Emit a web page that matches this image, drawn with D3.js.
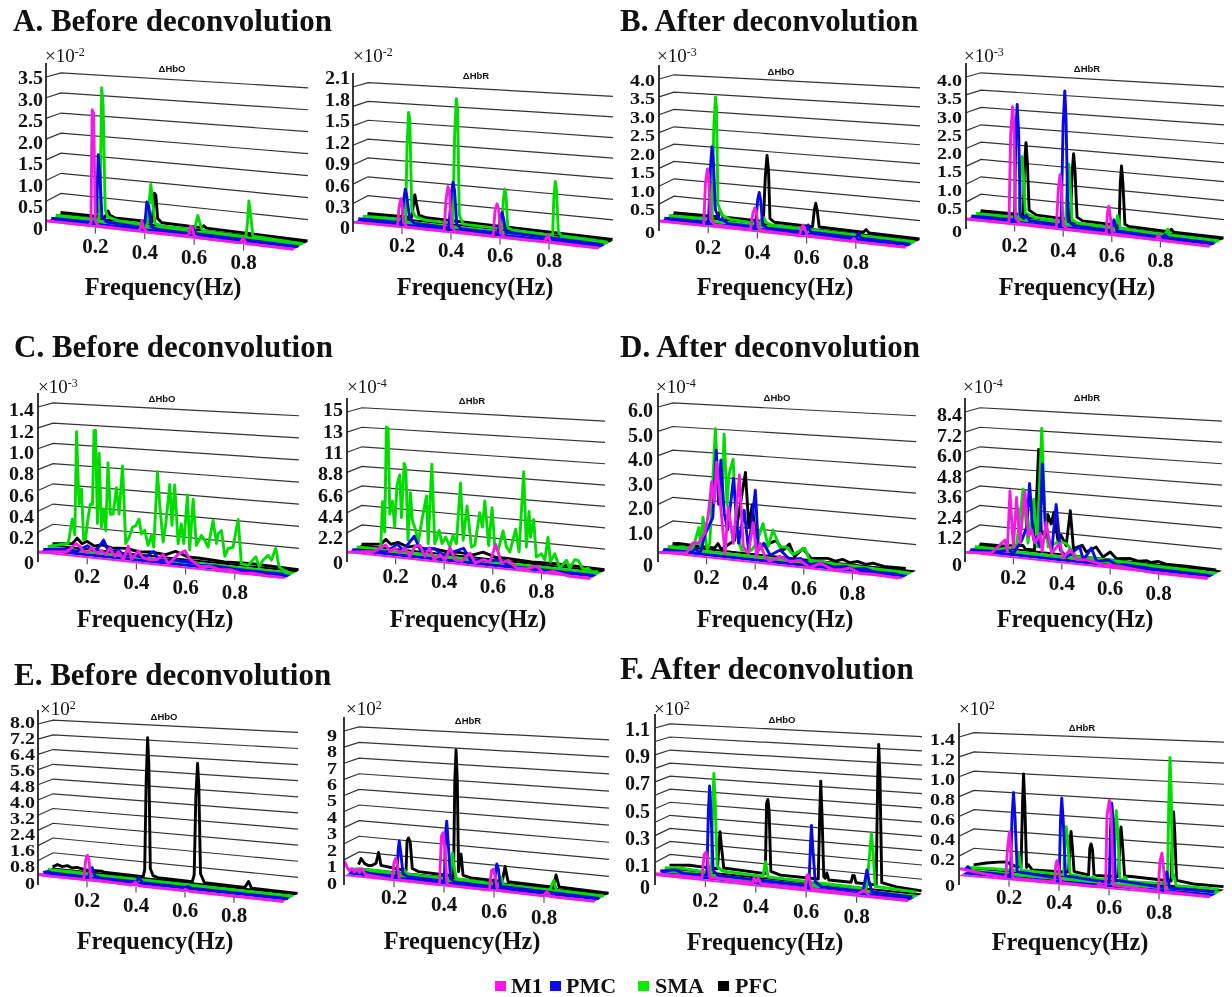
<!DOCTYPE html>
<html>
<head>
<meta charset="utf-8">
<script src="https://cdn.jsdelivr.net/npm/d3@7"></script>
<style>
    body {margin: 0; background: #fff;}
    svg {display: block; filter: blur(0.45px);}
    text {font-family: "Liberation Serif", serif; fill: #111;}
</style>
</head>
<body>
<div id="chart"></div>
<script>
// series names, back to front draw order comes from depth below
const seriesNames = ['M1', 'PMC', 'SMA', 'PFC']
const seriesColors = ['#f01ee0', '#0a0ae6', '#00dc00', '#000000']
const legendColors = ['#ff14e6', '#0a0af0', '#00f000', '#000000']
const xTickValues = [0.2, 0.4, 0.6, 0.8]
const xTickLabels = ['0.2', '0.4', '0.6', '0.8']

// values are [frequency, amplitude]
const aOxyM1 = [[0,.02],[.17,.03],[.18,.08],[.185,2.78],[.191,2.7],[.198,.15],[.21,.04],[.37,.03],[.38,.08],[.386,.27],[.394,.1],[.41,.03],[.57,.04],[.578,.1],[.583,.27],[.59,.26],[.598,.06],[.62,.03],[.785,.02],[.797,.14],[.808,.02],[1,.01]]
const aOxyPMC = [[0,.02],[.175,.03],[.184,.3],[.19,1.67],[.197,1.2],[.205,.2],[.225,.08],[.37,.04],[.38,.2],[.387,.66],[.395,.55],[.405,.08],[.43,.04],[.56,.03],[.573,.18],[.585,.04],[1,.01]]
const aOxySMA = [[0,.03],[.175,.04],[.18,.6],[.186,3.24],[.192,2.8],[.2,.3],[.21,.14],[.25,.07],[.37,.06],[.38,.7],[.385,1.02],[.392,.6],[.402,.1],[.44,.05],[.56,.05],[.567,.2],[.575,.4],[.585,.2],[.595,.05],[.77,.03],[.777,.4],[.782,.86],[.79,.5],[.798,.06],[1,.02]]
const aOxyPFC = [[0,.03],[.18,.04],[.192,.2],[.2,.1],[.22,.05],[.37,.05],[.376,.4],[.38,.75],[.386,.7],[.393,.15],[.41,.06],[.57,.05],[.58,.1],[.59,.05],[1,.02]]

const aDeoxyM1 = [[0,.01],[.18,.02],[.186,.3],[.193,.44],[.198,.38],[.205,.08],[.22,.02],[.37,.02],[.378,.5],[.386,.69],[.392,.6],[.4,.1],[.415,.03],[.57,.02],[.578,.4],[.586,.5],[.592,.44],[.6,.08],[.62,.02],[.78,.02],[.793,.12],[.805,.02],[1,.01]]
const aDeoxyPMC = [[0,.02],[.178,.03],[.186,.4],[.192,.55],[.198,.45],[.21,.1],[.23,.04],[.37,.03],[.38,.55],[.387,.72],[.393,.6],[.402,.1],[.42,.03],[.57,.03],[.58,.25],[.587,.34],[.593,.25],[.602,.05],[1,.02]]
const aDeoxySMA = [[0,.02],[.175,.04],[.181,1.2],[.187,1.7],[.192,1.6],[.2,.2],[.215,.1],[.26,.06],[.368,.06],[.375,1.4],[.382,1.96],[.387,1.8],[.394,.2],[.4,.14],[.41,.06],[.568,.05],[.574,.5],[.58,.65],[.585,.55],[.592,.08],[.61,.05],[.775,.03],[.78,.6],[.786,.83],[.791,.7],[.798,.1],[.81,.04],[1,.02]]
const aDeoxyPFC = [[0,.02],[.18,.03],[.186,.2],[.193,.39],[.2,.25],[.21,.08],[.24,.05],[1,.02]]

const bOxyM1 = [[0,.02],[.18,.03],[.187,1.2],[.195,1.59],[.2,1.4],[.208,.2],[.225,.08],[.37,.05],[.38,.5],[.388,.65],[.394,.55],[.402,.12],[.42,.05],[.57,.03],[.578,.25],[.584,.32],[.59,.25],[.6,.05],[.78,.02],[.79,.1],[.8,.02],[1,.01]]
const bOxyPMC = [[0,.02],[.18,.04],[.188,1.6],[.194,2.15],[.2,1.7],[.208,.4],[.225,.15],[.24,.15],[.26,.06],[.37,.05],[.38,.8],[.386,1],[.392,.8],[.4,.12],[.42,.05],[.575,.05],[.585,.25],[.595,.06],[.78,.04],[.79,.17],[.8,.04],[1,.02]]
const bOxySMA = [[0,.03],[.176,.05],[.183,2.6],[.19,3.48],[.194,3.2],[.2,.5],[.215,.2],[.25,.1],[.37,.06],[.378,.2],[.386,.25],[.395,.12],[.42,.06],[1,.02]]
const bOxyPFC = [[0,.03],[.18,.05],[.19,.22],[.2,.06],[.365,.05],[.373,1.3],[.38,1.9],[.386,1.5],[.392,.15],[.41,.06],[.565,.05],[.572,.5],[.578,.7],[.584,.5],[.592,.06],[.77,.04],[.783,.12],[.795,.04],[1,.02]]

const bDeoxyM1 = [[0,.02],[.175,.04],[.182,2.5],[.19,3.25],[.195,2.8],[.202,.2],[.22,.06],[.37,.05],[.378,1.1],[.385,1.5],[.39,1.3],[.398,.15],[.415,.05],[.575,.04],[.58,.6],[.586,.78],[.592,.5],[.6,.06],[.78,.03],[.79,.16],[.8,.03],[1,.01]]
const bDeoxyPMC = [[0,.03],[.178,.05],[.184,2.6],[.189,3.27],[.195,2.5],[.202,.2],[.215,.12],[.227,.22],[.24,.08],[.37,.05],[.378,2.8],[.385,3.73],[.39,3],[.398,.2],[.42,.08],[.575,.05],[.587,.35],[.6,.06],[.785,.03],[.797,.1],[.81,.03],[1,.02]]
const bDeoxySMA = [[0,.03],[.178,.05],[.184,1.3],[.19,1.77],[.196,1.3],[.204,.2],[.24,.1],[.37,.06],[.377,1.2],[.383,1.67],[.388,1.2],[.396,.15],[.42,.07],[.575,.05],[.584,.4],[.595,.06],[.78,.03],[.79,.18],[.8,.03],[1,.02]]
const bDeoxyPFC = [[0,.03],[.176,.05],[.181,1.5],[.187,2.1],[.193,1.5],[.2,.2],[.23,.08],[.37,.06],[.377,1.4],[.383,1.9],[.389,1.4],[.397,.15],[.42,.06],[.57,.05],[.575,1.2],[.58,1.68],[.586,1.2],[.594,.1],[.61,.05],[.775,.03],[.785,.1],[.795,.03],[1,.02]]

const cOxyM1 = [[0,.005],[.115,.04],[.135,.08],[.152,.125],[.169,.1],[.182,.06],[.199,.05],[.216,.1],[.236,.055],[.257,.08],[.274,.05],[.29,.115],[.311,.04],[.325,.09],[.345,.02],[.365,.15],[.379,.03],[.406,.115],[.426,.055],[.446,.045],[.48,.05],[.507,.105],[.528,.02],[.568,.12],[.596,.16],[.616,.085],[.656,.03],[.697,.04],[.738,.02],[.778,.03],[.819,.01],[.873,.02],[.927,.01],[.982,.01]]
const cOxyPMC = [[0,.005],[.096,.03],[.135,.02],[.157,.055],[.18,.085],[.205,.045],[.225,.08],[.245,.155],[.266,.05],[.306,.075],[.333,.02],[.367,.045],[.408,.025],[.449,.095],[.469,.02],[.53,.035],[.604,.03],[.638,.01],[.706,.02],[.774,.01],[.882,.01],[.977,.01]]
const cOxySMA = [[0,.01],[.083,.06],[.1,.3],[.11,.15],[.117,1.15],[.127,.45],[.137,.6],[.146,.11],[.154,.125],[.164,.33],[.173,.46],[.182,.46],[.188,1.17],[.194,1.175],[.202,.28],[.209,.955],[.218,.25],[.228,.425],[.236,.22],[.245,.87],[.255,.38],[.266,.385],[.279,.64],[.29,.39],[.304,.85],[.317,.115],[.331,.18],[.344,.275],[.358,.295],[.371,.36],[.381,.22],[.394,.26],[.408,.12],[.421,.215],[.431,.11],[.446,.82],[.455,.52],[.469,.165],[.48,.34],[.496,.71],[.505,.33],[.516,.71],[.53,.165],[.543,.35],[.553,.17],[.568,.625],[.577,.115],[.591,.59],[.604,.165],[.625,.26],[.638,.22],[.652,.16],[.672,.41],[.686,.2],[.692,.29],[.706,.325],[.72,.09],[.733,.165],[.753,.18],[.774,.44],[.787,.04],[.814,.03],[.846,.115],[.859,.03],[.875,.09],[.896,.14],[.909,.1],[.927,.21],[.94,.05],[.957,.02],[.977,.01]]
const cOxyPFC = [[0,.01],[.08,.03],[.1,.09],[.12,.04],[.14,.07],[.17,.03],[.2,.05],[.24,.03],[.3,.04],[.35,.02],[.4,.03],[.46,.02],[.5,.06],[.55,.02],[.6,.02],[.7,.01],[.8,.02],[1,.01]]

const cDeoxyM1 = [[0,.05],[.113,.47],[.127,.76],[.158,1.3],[.175,.6],[.195,1.05],[.216,.58],[.237,1.15],[.257,.33],[.278,1.45],[.298,1.6],[.319,.5],[.337,1.45],[.356,.25],[.381,.85],[.401,.3],[.422,1.7],[.442,.47],[.47,.37],[.504,1.35],[.525,.35],[.559,.8],[.586,.6],[.61,2.5],[.634,.65],[.662,1],[.696,.3],[.737,.3],[.778,.7],[.806,.07],[.847,.35],[.915,.02],[.998,.02]]
const cDeoxyPMC = [[0,.05],[.143,.2],[.184,1.15],[.211,.6],[.255,2.2],[.28,.8],[.337,1.1],[.376,.5],[.458,1.45],[.486,.3],[.54,.37],[.609,.6],[.65,.05],[.719,.05],[.787,.05],[.897,.05],[.993,.05]]
const cDeoxySMA = [[0,.05],[.09,.1],[.099,.36],[.106,5.35],[.115,2.03],[.122,13.6],[.129,13.5],[.136,4.06],[.147,5.5],[.156,2.7],[.166,7.4],[.177,8.45],[.184,3.8],[.195,9.75],[.202,9.2],[.211,1.4],[.221,6.6],[.229,3.6],[.243,2.55],[.252,1.15],[.27,4],[.287,6.4],[.294,1.25],[.309,9.9],[.321,1.3],[.339,2.8],[.351,1.4],[.366,2.15],[.383,1.15],[.396,2.4],[.41,1.55],[.427,8.1],[.438,2],[.454,5.7],[.472,1.35],[.486,1.6],[.506,5.1],[.517,3.6],[.527,6.4],[.543,1.7],[.557,5.75],[.568,1.6],[.582,1.3],[.602,3.4],[.616,1.75],[.63,1.25],[.654,3.7],[.668,1.35],[.687,9.8],[.698,1.95],[.709,5.7],[.715,3],[.728,4.9],[.739,1],[.76,1.4],[.774,.8],[.787,3.2],[.797,.67],[.815,1.55],[.835,.1],[.863,1],[.877,.2],[.897,1.15],[.911,1.1],[.931,.25],[.952,.4],[.966,.1],[.993,.15]]
const cDeoxyPFC = [[0,.05],[.08,.3],[.1,.9],[.12,.4],[.15,.7],[.19,.3],[.22,.5],[.26,.3],[.3,.4],[.36,.2],[.4,.3],[.46,.2],[.5,.6],[.55,.2],[.6,.2],[.7,.1],[.8,.2],[1,.1]]

const dOxyM1 = [[0,.01],[.116,.11],[.141,.55],[.164,.57],[.191,1],[.205,1.75],[.219,3.1],[.23,2.25],[.239,3.9],[.249,2.9],[.26,1.7],[.274,.27],[.287,2.15],[.308,.7],[.333,3.45],[.349,.6],[.37,.37],[.39,1.6],[.404,.27],[.418,.8],[.438,.3],[.459,.13],[.5,.37],[.541,.2],[.582,.3],[.623,.04],[.665,.27],[.72,.06],[.76,.12],[.788,.2],[.829,.03],[.884,.06],[.987,.01]]
const dOxyPMC = [[0,.02],[.118,.03],[.132,.2],[.152,.03],[.173,.85],[.187,1.15],[.204,1.55],[.218,4.3],[.228,2.1],[.237,3.9],[.251,1.75],[.265,1.1],[.289,3.2],[.31,.6],[.333,1.95],[.351,.36],[.379,2.8],[.392,.4],[.413,.7],[.44,.25],[.481,.5],[.523,.14],[.564,.25],[.605,.05],[.646,.14],[.7,.05],[.75,.12],[.783,.05],[.83,.12],[.866,.03],[.968,.03]]
const dOxySMA = [[0,.04],[.104,.08],[.128,.97],[.136,.18],[.145,1.4],[.162,.08],[.173,.35],[.196,5.1],[.207,2.65],[.221,2],[.232,4.9],[.244,2],[.252,3.25],[.269,3.9],[.283,1],[.303,.21],[.344,.25],[.365,.55],[.392,1.38],[.413,.47],[.433,1.15],[.461,.5],[.488,.53],[.516,.26],[.564,.55],[.584,.1],[.626,.08],[.694,.05],[.763,.05],[.9,.03],[.982,.02]]
const dOxyPFC = [[0,.04],[.022,.08],[.1,.06],[.173,.05],[.187,.25],[.2,.03],[.255,.45],[.3,3.3],[.314,1.05],[.328,2],[.342,.67],[.358,.28],[.427,.62],[.454,.25],[.481,.54],[.502,.05],[.536,.4],[.571,.05],[.639,.12],[.67,.04],[.7,.14],[.73,.04],[.763,.12],[.795,.04],[.824,.12],[.87,.04],[.96,.05]]

const dDeoxyM1 = [[0,.02],[.108,.15],[.163,1],[.173,.35],[.184,3.9],[.198,.6],[.211,3.55],[.225,.92],[.246,3.95],[.26,1.35],[.273,1.75],[.287,1],[.308,1.6],[.317,.56],[.333,2.25],[.356,.5],[.39,1.15],[.404,.3],[.432,.83],[.459,.3],[.5,.35],[.535,.25],[.57,.16],[.638,.17],[.707,.08],[.776,.02],[.859,.02],[1,.01]]
const dDeoxyPMC = [[0,.02],[.117,.08],[.158,.24],[.179,.1],[.213,.9],[.234,1.73],[.245,4.3],[.262,1],[.275,1.2],[.287,.63],[.298,5.5],[.31,1.85],[.337,.5],[.355,3.2],[.372,.57],[.399,.2],[.452,.87],[.468,.12],[.5,.86],[.523,.12],[.572,.28],[.606,.05],[.634,.1],[.689,.08],[.758,.04],[.978,.02]]
const dDeoxySMA = [[0,.05],[.1,.06],[.172,.3],[.2,3.8],[.22,.6],[.244,3.25],[.258,.44],[.277,7.5],[.289,2.65],[.303,.5],[.351,.9],[.379,.8],[.42,.1],[.461,.1],[.53,.1],[.6,.1],[.737,.05],[.957,.02]]
const dDeoxyPFC = [[0,.05],[.1,.08],[.165,.22],[.179,.24],[.19,.03],[.227,.05],[.244,6.1],[.255,1.2],[.273,.88],[.282,2.25],[.296,1.7],[.307,2.4],[.324,.76],[.337,1.08],[.358,.5],[.375,2.6],[.388,.37],[.424,.62],[.441,.25],[.482,.6],[.51,.06],[.54,.4],[.565,.05],[.623,.14],[.655,.04],[.689,.12],[.71,.04],[.737,.14],[.77,.04],[.854,.05],[.978,.02]]

const eOxyM1 = [[0,.08],[.05,.05],[.185,.06],[.193,1.1],[.2,1.33],[.206,1.1],[.214,.1],[.38,.03],[.396,.2],[.41,.03],[.59,.03],[.6,.1],[.615,.02],[1,.01]]
const eOxyPMC = [[0,.03],[.02,.12],[.035,.05],[.185,.04],[.194,.45],[.2,.55],[.21,.15],[.23,.06],[.38,.05],[.39,.3],[.405,.05],[.58,.03],[.59,.1],[.605,.03],[1,.02]]
const eOxySMA = [[0,.05],[.1,.08],[.2,.04],[.4,.03],[.6,.03],[.8,.02],[1,.02]]
const eOxyPFC = [[0,.05],[.02,.2],[.04,.12],[.06,.2],[.08,.1],[.1,.16],[.13,.08],[.2,.1],[.21,.05],[.37,.04],[.376,.4],[.382,5],[.388,7.33],[.393,6],[.399,.5],[.41,.15],[.43,.07],[.57,.04],[.578,.4],[.585,4.5],[.592,6.16],[.597,5],[.604,.5],[.62,.06],[.785,.04],[.8,.36],[.812,.04],[1,.02]]

const eDeoxyM1 = [[0,.9],[.01,.55],[.02,.35],[.03,.5],[.04,.3],[.05,.5],[.06,.3],[.07,.55],[.085,.2],[.19,.08],[.198,1.1],[.205,1.4],[.212,1],[.22,.1],[.38,.06],[.388,3],[.395,3.2],[.402,2.2],[.41,.2],[.42,.08],[.58,.05],[.588,1.2],[.595,1.3],[.603,.9],[.612,.08],[.795,.03],[.81,.3],[.825,.03],[1,.02]]
const eDeoxyPMC = [[0,.1],[.05,.2],[.08,.1],[.19,.1],[.196,1.8],[.2,2.3],[.206,1.6],[.215,.3],[.235,.15],[.38,.1],[.385,3],[.39,3.75],[.396,2.4],[.405,.3],[.42,.12],[.58,.07],[.586,1.1],[.59,1.45],[.596,1.2],[.605,.15],[1,.03]]
const eDeoxySMA = [[0,.1],[.08,.15],[.19,.08],[.2,.4],[.215,.12],[.385,.1],[.39,1.2],[.395,1.7],[.402,.8],[.41,.15],[.58,.07],[.59,.5],[.6,.08],[.785,.05],[.795,.45],[.8,.65],[.81,.08],[1,.03]]
const eDeoxyPFC = [[0,.2],[.01,.6],[.025,.3],[.04,.2],[.055,.25],[.07,.4],[.08,1.1],[.09,.3],[.19,.12],[.194,2],[.2,2.2],[.207,1.9],[.215,.3],[.24,.15],[.38,.1],[.385,6],[.39,7.9],[.395,6],[.4,.4],[.405,1.2],[.41,1.5],[.418,.2],[.45,.1],[.575,.08],[.586,1],[.598,.1],[.78,.05],[.79,.8],[.802,.1],[1,.03]]

const fOxyM1 = [[0,.015],[.1,.02],[.185,.02],[.193,.19],[.2,.21],[.207,.17],[.215,.03],[.385,.02],[.392,.06],[.4,.03],[.408,.06],[.418,.02],[.595,.02],[.6,.11],[.605,.12],[.612,.08],[.62,.02],[.8,.015],[.83,.05],[.85,.01],[1,.01]]
const fOxyPMC = [[0,.015],[.06,.035],[.09,.015],[.185,.02],[.191,.5],[.196,.68],[.201,.5],[.21,.06],[.23,.025],[.59,.02],[.596,.3],[.6,.45],[.605,.3],[.615,.05],[.64,.02],[.805,.02],[.815,.12],[.82,.17],[.828,.1],[.84,.02],[1,.015]]
const fOxySMA = [[0,.02],[.05,.03],[.185,.02],[.19,.5],[.195,.76],[.2,.55],[.208,.07],[.23,.04],[.39,.03],[.4,.14],[.41,.03],[.8,.02],[.81,.2],[.82,.41],[.826,.3],[.835,.04],[1,.03]]
const fOxyPFC = [[0,.02],[.08,.035],[.14,.03],[.19,.03],[.196,.2],[.2,.31],[.206,.2],[.215,.04],[.38,.03],[.385,.55],[.39,.58],[.395,.5],[.402,.05],[.44,.03],[.59,.03],[.596,.5],[.6,.74],[.605,.5],[.612,.05],[.618,.04],[.624,.08],[.632,.03],[.72,.03],[.727,.08],[.733,.08],[.74,.03],[.82,.03],[.826,.8],[.83,1.03],[.835,.8],[.842,.05],[.9,.03],[1,.02]]

const fDeoxyM1 = [[0,.07],[.01,.07],[.1,.04],[.185,.02],[.192,.3],[.2,.48],[.206,.3],[.214,.02],[.38,.02],[.386,.2],[.39,.23],[.396,.18],[.405,.02],[.55,.01],[.56,.05],[.57,.02],[.585,.02],[.59,.7],[.6,.85],[.607,.7],[.615,.04],[.795,.02],[.802,.3],[.81,.38],[.816,.25],[.825,.02],[1,.01]]
const fDeoxyPMC = [[0,.03],[.015,.07],[.03,.02],[.185,.02],[.191,.6],[.197,.85],[.203,.6],[.212,.06],[.38,.03],[.385,.6],[.39,.82],[.396,.6],[.405,.06],[.58,.03],[.585,.55],[.59,.8],[.597,.6],[.605,.06],[.8,.03],[.81,.18],[.822,.03],[1,.03]]
const fDeoxySMA = [[0,.03],[.1,.04],[.19,.04],[.2,.22],[.21,.05],[.38,.04],[.385,.4],[.39,.52],[.396,.35],[.405,.05],[.49,.03],[.5,.05],[.51,.03],[.58,.04],[.585,.5],[.59,.71],[.596,.5],[.604,.05],[.618,.04],[.625,.07],[.635,.03],[.795,.04],[.8,.8],[.805,1.25],[.81,.9],[.815,.1],[.82,.13],[.83,.03],[1,.03]]
const fDeoxyPFC = [[0,.03],[.05,.06],[.1,.08],[.13,.09],[.17,.05],[.19,.05],[.196,.7],[.2,1],[.205,.7],[.212,.05],[.22,.08],[.235,.03],[.38,.04],[.386,.35],[.39,.45],[.395,.3],[.402,.05],[.46,.03],[.465,.3],[.47,.34],[.476,.28],[.482,.03],[.58,.04],[.585,.4],[.59,.53],[.596,.35],[.604,.05],[.63,.05],[.79,.04],[.796,.5],[.8,.71],[.805,.5],[.812,.05],[.88,.03],[1,.03]]

// tick values on the wall and the labels beside them
const ticksA1 = [0, .5, 1, 1.5, 2, 2.5, 3, 3.5], labsA1 = ['0', '0.5', '1.0', '1.5', '2.0', '2.5', '3.0', '3.5']
const ticksA2 = [0, .3, .6, .9, 1.2, 1.5, 1.8, 2.1], labsA2 = ['0', '0.3', '0.6', '0.9', '1.2', '1.5', '1.8', '2.1']
const ticksB = [0, .5, 1, 1.5, 2, 2.5, 3, 3.5, 4], labsB = ['0', '0.5', '1.0', '1.5', '2.0', '2.5', '3.0', '3.5', '4.0']
const ticksC1 = [0, .2, .4, .6, .8, 1, 1.2, 1.4], labsC1 = ['0', '0.2', '0.4', '0.6', '0.8', '1.0', '1.2', '1.4']
const ticksC2 = [0, 2.2, 4.4, 6.6, 8.8, 11, 13.2, 15.4], labsC2 = ['0', '2.2', '4.4', '6.6', '8.8', '11', '13', '15']
const ticksD1 = [0, 1, 2, 3, 4, 5, 6], labsD1 = ['0', '1.0', '2.0', '3.0', '4.0', '5.0', '6.0']
const ticksD2 = [0, 1.2, 2.4, 3.6, 4.8, 6, 7.2, 8.4], labsD2 = ['0', '1.2', '2.4', '3.6', '4.8', '6.0', '7.2', '8.4']
const ticksE1 = [0, .8, 1.6, 2.4, 3.2, 4, 4.8, 5.6, 6.4, 7.2, 8], labsE1 = ['0', '0.8', '1.6', '2.4', '3.2', '4.0', '4.8', '5.6', '6.4', '7.2', '8.0']
const ticksE2 = [0, 1, 2, 3, 4, 5, 6, 7, 8, 9], labsE2 = ['0', '1', '2', '3', '4', '5', '6', '7', '8', '9']
const ticksF1 = [0, .1, .3, .5, .7, .9, 1.1], labsF1 = ['0', '0.1', '0.3', '0.5', '0.7', '0.9', '1.1']
const gridF1 = [.1, .2, .3, .4, .5, .6, .7, .8, .9, 1, 1.1]
const ticksF2 = [0, .2, .4, .6, .8, 1, 1.2, 1.4], labsF2 = ['0', '0.2', '0.4', '0.6', '0.8', '1.0', '1.2', '1.4']

const titles = [
    {text: 'A. Before deconvolution', x: 13, y: 31},
    {text: 'B. After deconvolution', x: 620, y: 31},
    {text: 'C. Before deconvolution', x: 14, y: 357},
    {text: 'D. After deconvolution', x: 620, y: 357},
    {text: 'E. Before deconvolution', x: 14, y: 685},
    {text: 'F. After deconvolution', x: 620, y: 679},
]

// ox,oy = origin on the wall axis, W,H = run and drop of the front edge, top = pixel of the highest tick
// lab = label y for zero, first tick and last tick, xLab = label y for 0.2 and 0.8
const panels = [
    {name: '\u0394HbO', ox: 46, oy: 222, W: 247, H: 28, top: 77, ticks: ticksA1, labs: labsA1, lab: [229, 207, 78], labX: 43, xLab: [246, 262], freq: [163, 286], exp: ['-2', 45, 62], nameAt: [172, 69], data: [aOxyM1, aOxyPMC, aOxySMA, aOxyPFC]},
    {name: '\u0394HbR', ox: 353, oy: 223, W: 245, H: 26, top: 87, ticks: ticksA2, labs: labsA2, lab: [228, 207, 78], labX: 350, xLab: [245, 260], freq: [475, 286], exp: ['-2', 353, 62], nameAt: [476, 76], data: [aDeoxyM1, aDeoxyPMC, aDeoxySMA, aDeoxyPFC]},
    {name: '\u0394HbO', ox: 659, oy: 222, W: 246, H: 26, top: 79, ticks: ticksB, labs: labsB, lab: [232, 209, 80], labX: 655, xLab: [247, 262], freq: [775, 286], exp: ['-3', 657, 62], nameAt: [781, 72], data: [bOxyM1, bOxyPMC, bOxySMA, bOxyPFC]},
    {name: '\u0394HbR', ox: 966, oy: 220, W: 243, H: 27, top: 77, ticks: ticksB, labs: labsB, lab: [231, 208, 80], labX: 962, xLab: [245, 260], freq: [1077, 286], exp: ['-3', 964, 62], nameAt: [1087, 69], data: [bDeoxyM1, bDeoxyPMC, bDeoxySMA, bDeoxyPFC]},
    {name: '\u0394HbO', ox: 38, oy: 553, W: 246, H: 26, top: 407, ticks: ticksC1, labs: labsC1, lab: [563, 538, 410], labX: 34, xLab: [576, 592], freq: [155, 618], exp: ['-3', 38, 393], nameAt: [162, 399], data: [cOxyM1, cOxyPMC, cOxySMA, cOxyPFC]},
    {name: '\u0394HbR', ox: 347, oy: 553, W: 243, H: 26, top: 412, ticks: ticksC2, labs: labsC2, lab: [563, 538, 410], labX: 343, xLab: [576, 591], freq: [468, 618], exp: ['-4', 347, 393], nameAt: [472, 401], data: [cDeoxyM1, cDeoxyPMC, cDeoxySMA, cDeoxyPFC]},
    {name: '\u0394HbO', ox: 658, oy: 553, W: 243, H: 26, top: 407, ticks: ticksD1, labs: labsD1, lab: [565, 533, 410], labX: 653, xLab: [577, 593], freq: [775, 618], exp: ['-4', 656, 393], nameAt: [777, 398], data: [dOxyM1, dOxyPMC, dOxySMA, dOxyPFC]},
    {name: '\u0394HbR', ox: 965, oy: 553, W: 242, H: 26, top: 412, ticks: ticksD2, labs: labsD2, lab: [565, 538, 415], labX: 962, xLab: [577, 593], freq: [1075, 618], exp: ['-4', 963, 393], nameAt: [1087, 398], data: [dDeoxyM1, dDeoxyPMC, dDeoxySMA, dDeoxyPFC]},
    {name: '\u0394HbO', ox: 38, oy: 876, W: 245, H: 26, top: 724, ticks: ticksE1, labs: labsE1, lab: [883, 866, 722], labX: 35, xLab: [900, 915], freq: [155, 940], exp: ['2', 40, 715], nameAt: [164, 717], data: [eOxyM1, eOxyPMC, eOxySMA, eOxyPFC]},
    {name: '\u0394HbR', ox: 344, oy: 876, W: 250, H: 26, top: 731, ticks: ticksE2, labs: labsE2, lab: [883, 866, 735], labX: 337, xLab: [897, 917], freq: [462, 940], exp: ['2', 346, 715], nameAt: [468, 721], data: [eDeoxyM1, eDeoxyPMC, eDeoxySMA, eDeoxyPFC]},
    {name: '\u0394HbO', ox: 655, oy: 876, W: 252, H: 26, top: 728, ticks: ticksF1, labs: labsF1, grid: gridF1, lab: [887, 865, 729], labX: 650, xLab: [900, 916], freq: [765, 941], exp: ['2', 654, 715], nameAt: [782, 720], data: [fOxyM1, fOxyPMC, fOxySMA, fOxyPFC]},
    {name: '\u0394HbR', ox: 959, oy: 876, W: 250, H: 22, top: 737, ticks: ticksF2, labs: labsF2, lab: [885, 859, 739], labX: 955, xLab: [897, 912], freq: [1070, 941], exp: ['2', 959, 715], nameAt: [1082, 728], data: [fDeoxyM1, fDeoxyPMC, fDeoxySMA, fDeoxyPFC]},
]

const legendAt = [[495, 511], [550, 566], [638, 655], [718, 735]]

const depthX = 15, depthY = -8.5
// where each series sits across the floor, and the band edges drawn under it
const seriesDepth = [0.03, 0.35, 0.65, 0.97]
const bandEdges = [0, 0.2, 0.5, 0.8, 1]

const svg = d3.select('#chart').append('svg')
    .attr('width', 1232)
    .attr('height', 997)

svg.selectAll('text.title')
    .data(titles)
    .join('text')
    .attr('class', 'title')
    .attr('x', d => d.x)
    .attr('y', d => d.y)
    .attr('font-size', 31)
    .attr('font-weight', 'bold')
    .text(d => d.text)

panels.forEach(drawPanel)
drawLegend()

function drawPanel(panel) {
    const g = svg.append('g')
    const vmax = panel.ticks[panel.ticks.length - 1]
    const xScale = d3.scaleLinear().domain([0, 1]).range([panel.ox, panel.ox + panel.W])
    const dropScale = d3.scaleLinear().domain([0, 1]).range([0, panel.H])
    const liftScale = d3.scaleLinear().domain([0, vmax]).range([0, panel.oy - panel.top])

    // slight perspective: heights grow toward the right, shrink toward the back
    const project = (f, d, v) => [
        xScale(f) + depthX * d,
        panel.oy + dropScale(f) + depthY * d - liftScale(v) * (1 + 0.09 * f - 0.03 * d),
    ]
    const line = d3.line()

    const gridValues = panel.grid || panel.ticks.slice(1)
    g.selectAll('path.grid')
        .data(gridValues)
        .join('path')
        .attr('class', 'grid')
        .attr('fill', 'none')
        .attr('stroke', '#333')
        .attr('stroke-width', 1.2)
        .attr('d', v => line([project(0, 0, v), project(0, 1, v), project(1, 1, v)]))

    // floor bands, black at the back
    d3.range(3, -1, -1).forEach(i => {
        const d0 = bandEdges[i], d1 = bandEdges[i + 1]
        g.append('path')
            .attr('fill', seriesColors[i])
            .attr('d', line([project(0, d0, 0), project(1, d0, 0), project(1, d1, 0), project(0, d1, 0)]) + 'Z')
    })

    d3.range(3, -1, -1).forEach(i => {
        g.append('path')
            .attr('fill', 'none')
            .attr('stroke', seriesColors[i])
            .attr('stroke-width', 2.9)
            .attr('stroke-linejoin', 'round')
            .attr('d', line(panel.data[i].map(d => project(d[0], seriesDepth[i], d[1]))))
    })

    // wall axis, labels sit on their own scale because they do not line up with the grid lines
    const labelScale = d3.scaleLinear()
        .domain([0, panel.ticks[1], vmax])
        .range(panel.lab)
    const yAxis = d3.axisLeft(labelScale)
        .tickValues(panel.ticks)
        .tickSize(0)
        .tickPadding(0)
        .tickFormat((d, i) => panel.labs[i])
    const yG = g.append('g')
        .attr('transform', `translate(${panel.labX},0)`)
        .call(yAxis)
    yG.select('.domain').remove()

    // tight panels get squat digits, same width as the others
    const spacing = Math.abs(panel.lab[1] - panel.lab[2]) / (panel.ticks.length - 2)
    const labelSize = Math.min(20, Math.max(17, spacing / 1.15))
    yG.selectAll('text')
        .attr('font-size', labelSize)
        .attr('font-weight', 'bold')
        .attr('font-family', '"Liberation Serif", serif')
        .attr('fill', '#111')
        .each(function () {
            const full = this.getComputedTextLength() * 20 / labelSize
            d3.select(this)
                .attr('textLength', full)
                .attr('lengthAdjust', 'spacingAndGlyphs')
        })

    g.append('line')
        .attr('x1', panel.ox).attr('x2', panel.ox)
        .attr('y1', panel.top - 14).attr('y2', panel.oy + 9)
        .attr('stroke', '#222')
        .attr('stroke-width', 1.8)

    // floor ticks and their labels
    const xLabScale = d3.scaleLinear().domain([0.2, 0.8]).range(panel.xLab)
    g.selectAll('line.xtick')
        .data(xTickValues)
        .join('line')
        .attr('class', 'xtick')
        .attr('x1', f => xScale(f)).attr('x2', f => xScale(f))
        .attr('y1', f => project(f, 0, 0)[1]).attr('y2', f => project(f, 0, 0)[1] + 6)
        .attr('stroke', '#555')
        .attr('stroke-width', 1.2)
    g.selectAll('text.xlab')
        .data(xTickValues)
        .join('text')
        .attr('class', 'xlab')
        .attr('x', f => xScale(f))
        .attr('y', f => xLabScale(f))
        .attr('dy', '.35em')
        .attr('text-anchor', 'middle')
        .attr('font-size', 21)
        .attr('font-weight', 'bold')
        .text((f, i) => xTickLabels[i])

    g.append('text')
        .attr('x', panel.freq[0])
        .attr('y', panel.freq[1])
        .attr('dy', '.35em')
        .attr('text-anchor', 'middle')
        .attr('font-size', 24.4)
        .attr('font-weight', 'bold')
        .text('Frequency(Hz)')

    const expText = g.append('text')
        .attr('x', panel.exp[1])
        .attr('y', panel.exp[2])
        .attr('font-size', 19)
    expText.append('tspan').text('\u00d710')
    expText.append('tspan').attr('dy', -6).attr('font-size', 12).text(panel.exp[0])

    g.append('text')
        .attr('x', panel.nameAt[0])
        .attr('y', panel.nameAt[1])
        .attr('dy', '.35em')
        .attr('text-anchor', 'middle')
        .attr('font-size', 9.5)
        .attr('font-weight', 'bold')
        .style('font-family', '"Liberation Sans", sans-serif')
        .text(panel.name)
}

function drawLegend() {
    const items = svg.selectAll('g.legend')
        .data(seriesNames)
        .join('g')
        .attr('class', 'legend')
    items.append('rect')
        .attr('x', (d, i) => legendAt[i][0])
        .attr('y', 981)
        .attr('width', 11)
        .attr('height', 10)
        .attr('fill', (d, i) => legendColors[i])
    items.append('text')
        .attr('x', (d, i) => legendAt[i][1])
        .attr('y', 993)
        .attr('font-size', 22)
        .attr('font-weight', 'bold')
        .text(d => d)
}
</script>
</body>
</html>
